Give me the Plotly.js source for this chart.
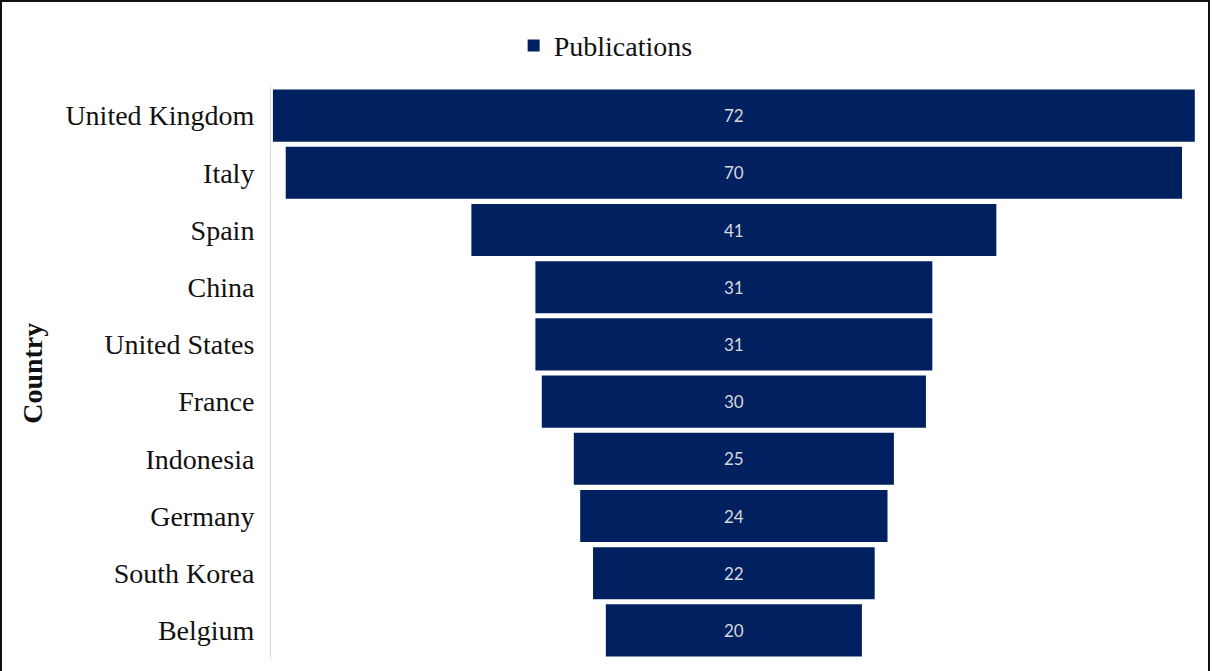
<!DOCTYPE html>
<html>
<head>
<meta charset="utf-8">
<script src="https://cdn.plot.ly/plotly-3.0.1.min.js"></script>
<style>
  html, body { margin: 0; padding: 0; background: #fff; overflow: hidden; }
  #frame { position: absolute; left: 0; top: 0; width: 1206px; height: 700px; border: 2px solid #111; background: #fff; }
  #chart { width: 1206px; height: 690px; }
</style>
</head>
<body>
<div id="frame"><div id="chart"></div></div>
<script>
const countries = ["United Kingdom", "Italy", "Spain", "China", "United States", "France", "Indonesia", "Germany", "South Korea", "Belgium"];
const publications = [72, 70, 41, 31, 31, 30, 25, 24, 22, 20];
const seriesName = "Publications";
const axisTitle = "Country";

const serif = "'Liberation Serif', 'Times New Roman', serif";

const trace = {
  type: "funnel",
  name: seriesName,
  y: countries,
  x: publications,
  orientation: "h",
  showlegend: true,
  marker: { color: "#002060" },
  connector: { visible: false },
  textinfo: "value",
  textposition: "inside",
  insidetextanchor: "middle",
  insidetextfont: { family: "Lato, 'Liberation Sans', sans-serif", size: 17, color: "#d9d9d9" },
  hoverinfo: "y+x"
};

const layout = {
  width: 1206,
  height: 690,
  margin: { l: 269, r: 10, t: 85, b: 33 },
  paper_bgcolor: "#ffffff",
  plot_bgcolor: "#ffffff",
  font: { family: serif, color: "#111" },
  funnelgap: 0.09,
  showlegend: true,
  legend: {
    orientation: "h",
    x: 0.361, xanchor: "center",
    y: 1.072, yanchor: "middle",
    font: { family: serif, size: 28, color: "#111" }
  },
  xaxis: {
    range: [-36.15, 36.25],
    showticklabels: false, showgrid: false, zeroline: false, showline: false, fixedrange: true
  },
  yaxis: {
    type: "category",
    autorange: "reversed",
    showline: true, linecolor: "#d9d9d9", linewidth: 1,
    ticks: "", ticklabelstandoff: 10,
    tickfont: { family: serif, size: 28, color: "#111" },
    showgrid: false, zeroline: false,
    automargin: false
  },
  annotations: [{
    text: "<b>" + axisTitle + "</b>",
    xref: "paper", yref: "paper",
    x: -0.258, y: 0.5,
    xanchor: "center", yanchor: "middle",
    textangle: -90,
    showarrow: false,
    font: { family: serif, size: 28, color: "#111" }
  }]
};

Plotly.newPlot("chart", [trace], layout, { displayModeBar: false, staticPlot: true });
</script>
</body>
</html>
